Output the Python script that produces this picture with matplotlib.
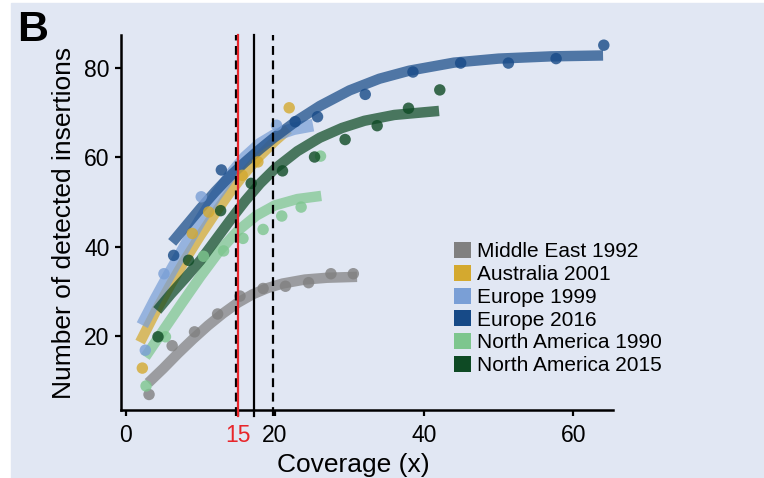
import matplotlib
matplotlib.use("Agg")
import matplotlib.pyplot as plt
from matplotlib.patches import Rectangle, Patch

plt.rcParams['font.family'] = ['Liberation Sans', 'DejaVu Sans']

# series names and colours
names = ["Middle East 1992", "Australia 2001", "Europe 1999", "Europe 2016",
         "North America 1990", "North America 2015"]
colors = ["#808080", "#D4A92F", "#7A9FD6", "#174A87", "#7DC68E", "#0E4A24"]

# observed points (coverage, detected insertions)
me92_x = [3.1, 6.2, 9.2, 12.3, 15.3, 18.4, 21.4, 24.5, 27.5, 30.5]
me92_y = [7.0, 17.9, 21.0, 25.0, 29.0, 30.7, 31.2, 32.0, 34.0, 34.0]
au01_x = [2.2, 8.9, 11.1, 15.6, 17.7, 21.9]
au01_y = [12.9, 43.0, 47.8, 56.0, 59.0, 71.1]
eu99_x = [2.6, 5.1, 10.1, 20.2]
eu99_y = [16.9, 34.0, 51.2, 67.2]
eu16_x = [6.4, 12.8, 22.7, 25.7, 32.1, 38.5, 44.9, 51.3, 57.7, 64.1]
eu16_y = [38.1, 57.2, 68.0, 69.1, 74.1, 79.1, 81.1, 81.1, 82.1, 85.1]
na90_x = [2.7, 5.3, 10.4, 13.1, 15.7, 18.4, 20.9, 23.5, 26.1]
na90_y = [8.9, 19.9, 37.9, 39.1, 41.9, 43.9, 46.9, 48.9, 60.3]
na15_x = [4.3, 8.4, 12.7, 16.8, 21.0, 25.3, 29.4, 33.7, 37.9, 42.1]
na15_y = [19.9, 37.0, 48.1, 54.2, 57.0, 60.1, 64.0, 67.1, 71.0, 75.1]

# fitted curves
me92_fx = [3, 5, 7, 9, 11, 13, 15, 17, 19, 21, 24, 27, 31]
me92_fy = [9.6, 12.8, 16.2, 19.4, 22.4, 25.1, 27.5, 29.4, 30.8, 31.8, 32.7, 33.1, 33.3]
au01_fx = [1.9, 4, 6, 8, 10, 12, 14, 16, 18, 20, 21.8]
au01_fy = [18.7, 25.6, 31.6, 37.3, 42.6, 47.6, 52.3, 56.6, 60.4, 63.7, 66.3]
eu99_fx = [2.2, 4, 6, 8, 10, 12, 14, 16, 18, 20, 22.5, 25.1]
eu99_fy = [22.5, 28.3, 34.4, 40.3, 46.0, 51.3, 56.0, 60.0, 63.0, 65.0, 66.4, 67.2]
eu16_fx = [6.2, 8, 10, 12, 14, 16, 18, 20, 23, 26, 30, 34, 38, 44, 50, 57, 64]
eu16_fy = [41.0, 44.6, 48.6, 52.4, 55.9, 59.0, 61.9, 64.6, 68.3, 71.5, 75.0, 77.6,
           79.4, 81.2, 82.1, 82.6, 82.8]
na90_fx = [2.6, 5, 7.5, 10, 12.5, 15, 17.5, 20, 23, 26.2]
na90_fy = [15.4, 21.3, 27.4, 33.4, 39.0, 43.6, 47.0, 49.3, 50.7, 51.4]
na15_fx = [4.2, 6, 8, 10, 12, 14, 16, 18, 20, 23, 26, 29, 32, 36, 42]
na15_fy = [25.8, 29.4, 33.1, 37.0, 41.5, 46.0, 50.3, 54.2, 57.5, 61.4, 64.4, 66.6,
           68.2, 69.5, 70.4]

# coverage markers
cov_low, cov_mean, cov_high, cov_red = 14.8, 17.2, 19.7, 15

points = [(me92_x, me92_y), (au01_x, au01_y), (eu99_x, eu99_y),
          (eu16_x, eu16_y), (na90_x, na90_y), (na15_x, na15_y)]
fits = [(me92_fx, me92_fy), (au01_fx, au01_fy), (eu99_fx, eu99_fy),
        (eu16_fx, eu16_fy), (na90_fx, na90_fy), (na15_fx, na15_fy)]
widths = [7.5, 7.5, 9.0, 7.5, 7.5, 7.5]

fig = plt.figure(figsize=(7.64, 4.78), dpi=100)
fig.patches.append(Rectangle((11 / 764, 0), 1, 1 - 3 / 478, transform=fig.transFigure,
                             color="#E1E7F3", zorder=-10))
ax = fig.add_axes([0.158, 0.142, 0.645, 0.785])
ax.set_facecolor("none")

for (fx, fy), c, lw in zip(fits, colors, widths):
    ax.plot(fx, fy, color=c, lw=lw, alpha=0.72, solid_capstyle="butt",
            solid_joinstyle="round", zorder=2)
for (px, py), c in zip(points, colors):
    ax.scatter(px, py, s=68, color=c, alpha=0.8, edgecolors="none", zorder=3)

for xv, ls, col in [(cov_low, (0, (4, 2.5)), "black"), (cov_high, (0, (4, 2.5)), "black"),
                    (cov_mean, "-", "black"), (cov_red, "-", "#E8262B")]:
    ax.axvline(xv, ymin=-0.015, color=col, lw=1.6, ls=ls, zorder=4, clip_on=False)

ax.set_xlim(-0.7, 65.4)
ax.set_ylim(3.5, 87.4)
for s in ["top", "right"]:
    ax.spines[s].set_visible(False)
for s in ["left", "bottom"]:
    ax.spines[s].set_linewidth(1.8)
ax.set_xticks([0, 15, 20, 40, 60])
ax.set_xticklabels(["0", "15", "20", "40", "60"])
ax.set_yticks([20, 40, 60, 80])
ax.tick_params(width=1.6, length=4, labelsize=16.5, colors="black", pad=4)
ax.tick_params(axis="x", pad=6)
ax.get_xticklabels()[1].set_color("#E8262B")
ax.get_xticklines()[2].set_color("#E8262B")
ax.set_xlabel("Coverage (x)", fontsize=19)
ax.xaxis.set_label_coords(0.473, -0.113)
ax.set_ylabel("Number of detected insertions", fontsize=19, labelpad=6)

handles = [Patch(facecolor=c, edgecolor="none") for c in colors]
ax.legend(handles, names, loc="upper left", bbox_to_anchor=(0.66, 0.47), frameon=False,
          fontsize=15, handlelength=0.8, handleheight=0.8, handletextpad=0.3,
          labelspacing=0.17, borderaxespad=0)

fig.text(17 / 764, 1 - 30 / 478, "B", fontsize=31, fontweight="bold", va="center")

fig.savefig("out.png", dpi=100, facecolor="white")
